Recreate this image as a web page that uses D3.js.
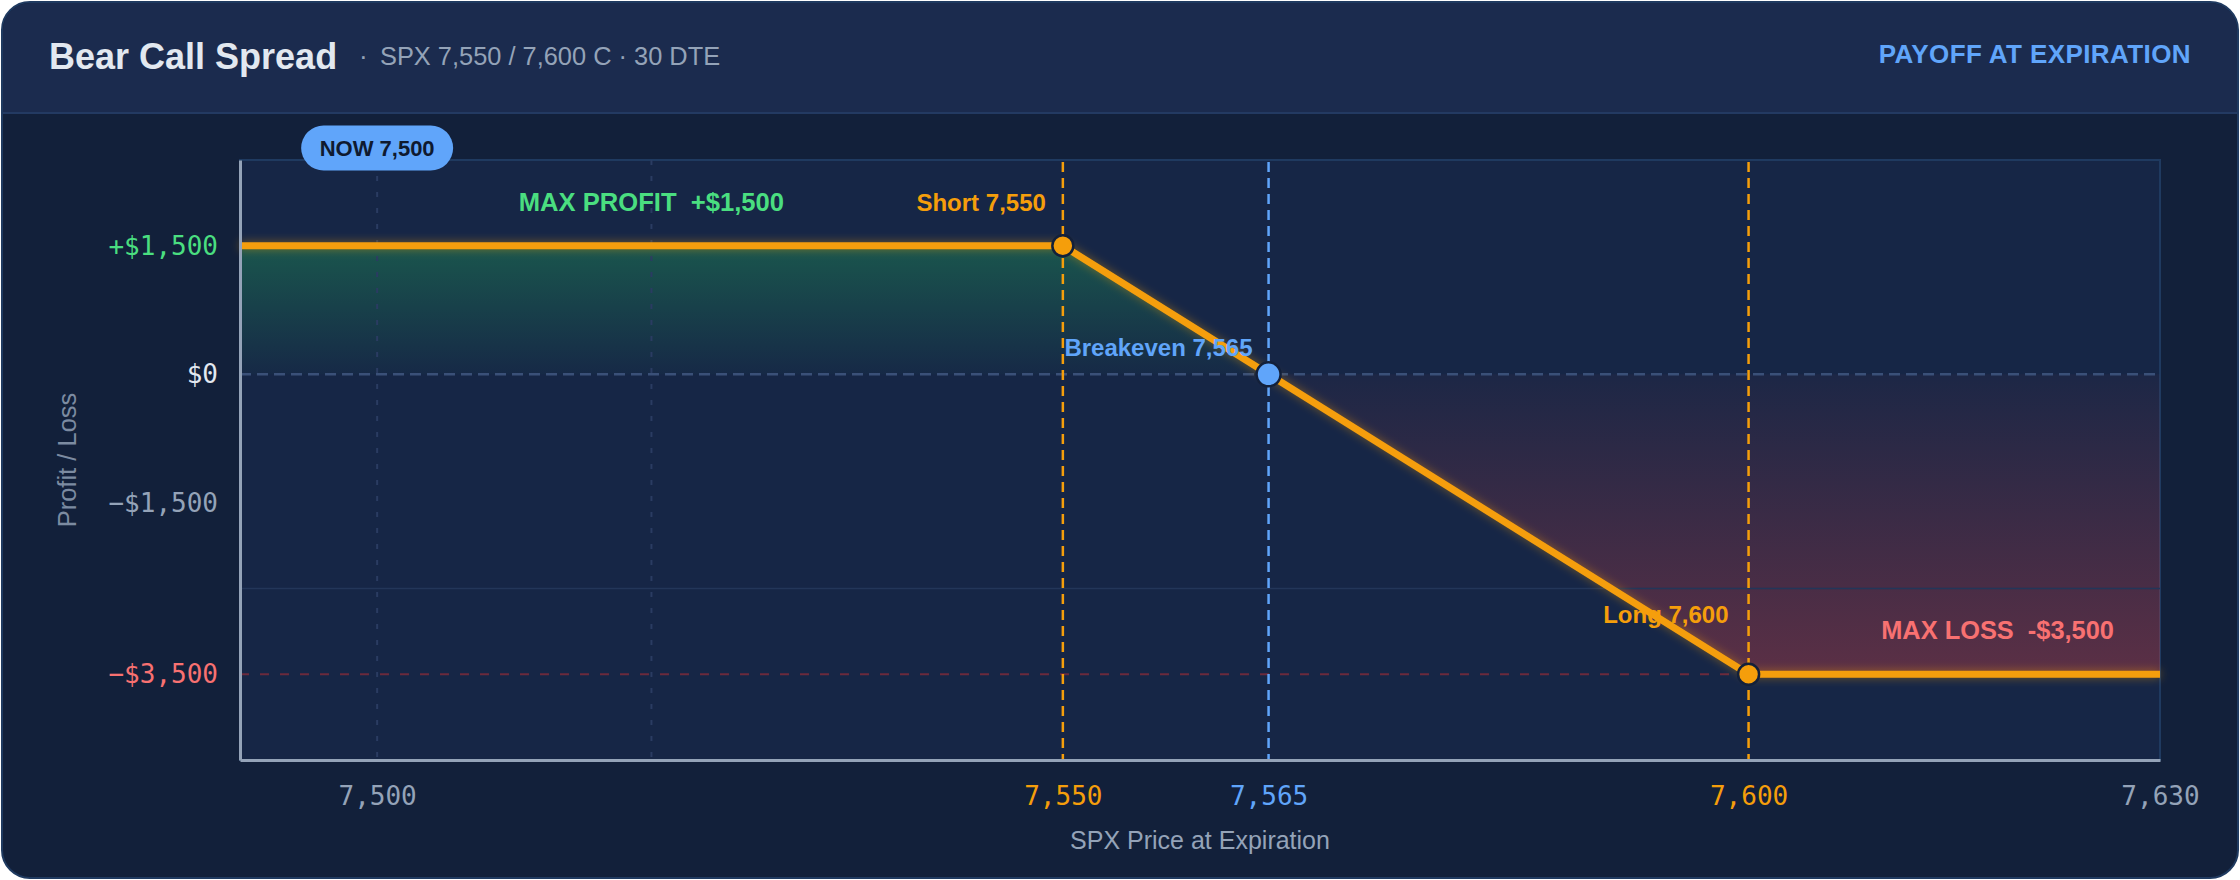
<!DOCTYPE html>
<html lang="en">
<head>
    <meta charset="UTF-8">
    <title>Bear Call Spread</title>
    <script src="https://cdn.jsdelivr.net/npm/d3@7"></script>
    <style>
        html, body { margin: 0; padding: 0; background: #ffffff; }
        svg { display: block; }
        text { font-family: "Liberation Sans", Arial, sans-serif; }
        .mono { font-family: "DejaVu Sans Mono", monospace; }
    </style>
</head>
<body>
    <div id="chart"></div>

    <script>
        // payoff at expiration (SPX price -> P/L in $)
        const prices = [7490, 7550, 7565, 7600, 7630];
        const pnl = [1500, 1500, 0, -3500, -3500];

        // axis ticks
        const xTicks = [7500, 7550, 7565, 7600, 7630];
        const yTicks = [1500, 0, -1500, -3500];
        const xGrid = [7500, 7520];
        const yGrid = [-2500];

        // strikes and markers
        const shortStrike = 7550;
        const longStrike = 7600;
        const breakeven = 7565;
        const spot = 7500;
        const maxProfit = 1500;
        const maxLoss = -3500;

        const width = 2240;
        const height = 880;
        const plot = {left: 240, right: 2160, top: 160, bottom: 760};

        const orange = '#f59e0b';
        const blue = '#60a5fa';
        const green = '#4ade80';
        const red = '#f87171';

        let svg = d3.select('#chart')
            .append('svg')
            .attr('width', width)
            .attr('height', height);

        let defs = svg.append('defs');

        // glow for payoff line
        let glow = defs.append('filter').attr('id', 'glow')
            .attr('x', '-10%').attr('y', '-20%').attr('width', '120%').attr('height', '140%');
        glow.append('feGaussianBlur').attr('in', 'SourceAlpha').attr('stdDeviation', 5).attr('result', 'blur');
        glow.append('feFlood').attr('flood-color', orange).attr('flood-opacity', 0.45);
        glow.append('feComposite').attr('in2', 'blur').attr('operator', 'in').attr('result', 'shadow');
        let merge = glow.append('feMerge');
        merge.append('feMergeNode').attr('in', 'shadow');
        merge.append('feMergeNode').attr('in', 'SourceGraphic');

        let x = d3.scaleLinear().domain([7490, 7630]).range([plot.left, plot.right]);
        let y = d3.scaleLinear().domain([-4500, 2500]).range([plot.bottom, plot.top]);

        let gGreen = defs.append('linearGradient').attr('id', 'gradProfit')
            .attr('gradientUnits', 'userSpaceOnUse')
            .attr('x1', 0).attr('x2', 0).attr('y1', y(maxProfit)).attr('y2', y(0));
        gGreen.append('stop').attr('offset', 0).attr('stop-color', '#22c55e').attr('stop-opacity', 0.3);
        gGreen.append('stop').attr('offset', 1).attr('stop-color', '#22c55e').attr('stop-opacity', 0.02);

        let gRed = defs.append('linearGradient').attr('id', 'gradLoss')
            .attr('gradientUnits', 'userSpaceOnUse')
            .attr('x1', 0).attr('x2', 0).attr('y1', y(0)).attr('y2', y(maxLoss));
        gRed.append('stop').attr('offset', 0).attr('stop-color', '#ef4444').attr('stop-opacity', 0.03);
        gRed.append('stop').attr('offset', 1).attr('stop-color', '#ef4444').attr('stop-opacity', 0.32);

        // card
        let card = svg.append('g');
        card.append('rect')
            .attr('x', 2).attr('y', 2).attr('width', width - 4).attr('height', height - 4)
            .attr('rx', 28).attr('fill', '#12203a').attr('stroke', '#1f3a60').attr('stroke-width', 2);
        defs.append('clipPath').attr('id', 'headClip')
            .append('rect').attr('x', 3).attr('y', 3).attr('width', width - 6).attr('height', 110);
        card.append('rect')
            .attr('x', 3).attr('y', 3).attr('width', width - 6).attr('height', 200)
            .attr('rx', 27).attr('fill', '#1b2b4e').attr('clip-path', 'url(#headClip)');
        card.append('line')
            .attr('x1', 3).attr('x2', width - 3).attr('y1', 113).attr('y2', 113)
            .attr('stroke', '#233a62').attr('stroke-width', 2);

        // header text
        card.append('text')
            .attr('x', 49).attr('y', 56).attr('dominant-baseline', 'central')
            .attr('font-size', 36).attr('font-weight', 'bold').attr('fill', '#e2e8f0')
            .text('Bear Call Spread');
        card.append('text')
            .attr('x', 359).attr('y', 56).attr('dominant-baseline', 'central')
            .attr('font-size', 26).attr('fill', '#94a3b8')
            .text('·');
        card.append('text')
            .attr('x', 380).attr('y', 56).attr('dominant-baseline', 'central')
            .attr('font-size', 25.4).attr('fill', '#94a3b8')
            .text('SPX 7,550 / 7,600 C · 30 DTE');
        card.append('text')
            .attr('x', 2191).attr('y', 54).attr('dominant-baseline', 'central')
            .attr('text-anchor', 'end')
            .attr('font-size', 26).attr('font-weight', 'bold').attr('fill', blue)
            .attr('letter-spacing', 0.4)
            .text('PAYOFF AT EXPIRATION');

        // plot background
        svg.append('rect')
            .attr('x', plot.left).attr('y', plot.top)
            .attr('width', plot.right - plot.left).attr('height', plot.bottom - plot.top)
            .attr('fill', '#162646').attr('stroke', '#1f3a60').attr('stroke-width', 2);

        // areas
        let area = d3.area()
            .x(d => x(d[0]))
            .y0(y(0))
            .y1(d => y(d[1]));
        let pts = prices.map((p, i) => [p, pnl[i]]);

        svg.append('path')
            .datum(pts.filter(d => d[0] <= breakeven))
            .attr('d', area)
            .attr('fill', 'url(#gradProfit)');
        svg.append('path')
            .datum(pts.filter(d => d[0] >= breakeven))
            .attr('d', area)
            .attr('fill', 'url(#gradLoss)');

        // grid
        svg.selectAll('.gx').data(xGrid).join('line')
            .attr('x1', d => x(d)).attr('x2', d => x(d))
            .attr('y1', plot.top).attr('y2', plot.bottom)
            .attr('stroke', '#2a3c62').attr('stroke-width', 2).attr('stroke-dasharray', '5,11');
        svg.selectAll('.gy').data(yGrid).join('line')
            .attr('x1', plot.left).attr('x2', plot.right)
            .attr('y1', d => y(d)).attr('y2', d => y(d))
            .attr('stroke', '#233659').attr('stroke-width', 1.5);

        // zero and max loss reference lines
        svg.append('line')
            .attr('x1', plot.left).attr('x2', plot.right)
            .attr('y1', y(0)).attr('y2', y(0))
            .attr('stroke', '#3a5078').attr('stroke-width', 2.5).attr('stroke-dasharray', '11,6');
        svg.append('line')
            .attr('x1', plot.left).attr('x2', plot.right)
            .attr('y1', y(maxLoss)).attr('y2', y(maxLoss))
            .attr('stroke', '#6b2a3c').attr('stroke-width', 2).attr('stroke-dasharray', '9,11');

        // strike / breakeven verticals
        let verticals = [
            {v: shortStrike, c: orange},
            {v: breakeven, c: blue},
            {v: longStrike, c: orange}
        ];
        svg.selectAll('.vline').data(verticals).join('line')
            .attr('x1', d => x(d.v)).attr('x2', d => x(d.v))
            .attr('y1', plot.top + 2).attr('y2', plot.bottom)
            .attr('stroke', d => d.c).attr('stroke-width', 2.5).attr('stroke-dasharray', '10,6');

        // payoff line
        svg.append('path')
            .datum(pts)
            .attr('d', d3.line().x(d => x(d[0])).y(d => y(d[1])))
            .attr('fill', 'none')
            .attr('stroke', orange)
            .attr('stroke-width', 7)
            .attr('stroke-linejoin', 'round')
            .attr('filter', 'url(#glow)');

        // markers
        let markers = [
            {p: shortStrike, v: maxProfit, c: orange, r: 10.5},
            {p: breakeven, v: 0, c: blue, r: 12},
            {p: longStrike, v: maxLoss, c: orange, r: 10.5}
        ];
        svg.selectAll('.marker').data(markers).join('circle')
            .attr('cx', d => x(d.p)).attr('cy', d => y(d.v)).attr('r', d => d.r)
            .attr('fill', d => d.c).attr('stroke', '#13203a').attr('stroke-width', 2.5);

        // labels
        let labels = [
            {t: 'MAX PROFIT\u00a0\u00a0+$1,500', x: x(7520), y: 202, c: green, a: 'middle', s: 25.6},
            {t: 'Short 7,550', x: x(shortStrike) - 17, y: 202, c: orange, a: 'end', s: 24},
            {t: 'Breakeven 7,565', x: x(breakeven) - 16, y: y(0) - 27, c: blue, a: 'end', s: 24},
            {t: 'Long 7,600', x: x(longStrike) - 20, y: y(maxLoss) - 60, c: orange, a: 'end', s: 24},
            {t: 'MAX LOSS\u00a0\u00a0-$3,500', x: plot.right - 46, y: 630, c: red, a: 'end', s: 25.4}
        ];
        svg.selectAll('.lbl').data(labels).join('text')
            .attr('x', d => d.x).attr('y', d => d.y)
            .attr('text-anchor', d => d.a).attr('dominant-baseline', 'central')
            .attr('font-size', d => d.s).attr('font-weight', 'bold')
            .attr('fill', d => d.c)
            .text(d => d.t);

        // axes
        const xColor = {7500: '#94a3b8', 7550: orange, 7565: blue, 7600: orange, 7630: '#94a3b8'};
        const yColor = {1500: green, 0: '#e2e8f0', '-1500': '#94a3b8', '-3500': red};
        let fmtY = d => d > 0 ? '+$' + d3.format(',')(d) : d < 0 ? '\u2212$' + d3.format(',')(-d) : '$0';

        let xAxis = svg.append('g')
            .attr('transform', `translate(0,${plot.bottom})`)
            .call(d3.axisBottom(x).tickValues(xTicks).tickFormat(d3.format(',')).tickSize(0).tickPadding(27));
        xAxis.select('.domain').attr('stroke', '#94a3b8').attr('stroke-width', 3);
        xAxis.selectAll('text')
            .attr('class', 'mono')
            .attr('font-size', 26)
            .attr('fill', d => xColor[d]);

        let yAxis = svg.append('g')
            .attr('transform', `translate(${plot.left},0)`)
            .call(d3.axisLeft(y).tickValues(yTicks).tickFormat(fmtY).tickSize(0).tickPadding(22));
        yAxis.select('.domain').attr('stroke', '#94a3b8').attr('stroke-width', 3);
        yAxis.selectAll('text')
            .attr('class', 'mono')
            .attr('font-size', 26)
            .attr('fill', d => yColor[d]);

        // axis titles
        svg.append('text')
            .attr('x', (plot.left + plot.right) / 2).attr('y', 840)
            .attr('text-anchor', 'middle').attr('dominant-baseline', 'central')
            .attr('font-size', 25).attr('fill', '#94a3b8')
            .text('SPX Price at Expiration');
        svg.append('text')
            .attr('transform', `translate(67,${(plot.top + plot.bottom) / 2}) rotate(-90)`)
            .attr('text-anchor', 'middle').attr('dominant-baseline', 'central')
            .attr('font-size', 25.5).attr('fill', '#7c8ba1')
            .text('Profit / Loss');

        // NOW pill
        let pill = svg.append('g').attr('transform', `translate(${x(spot)},148)`);
        pill.append('rect')
            .attr('x', -76).attr('y', -22.5).attr('width', 152).attr('height', 45)
            .attr('rx', 22.5).attr('fill', blue);
        pill.append('text')
            .attr('text-anchor', 'middle').attr('dominant-baseline', 'central')
            .attr('font-size', 22).attr('font-weight', 'bold').attr('fill', '#0f1a30')
            .text('NOW 7,500');
    </script>
</body>
</html>
